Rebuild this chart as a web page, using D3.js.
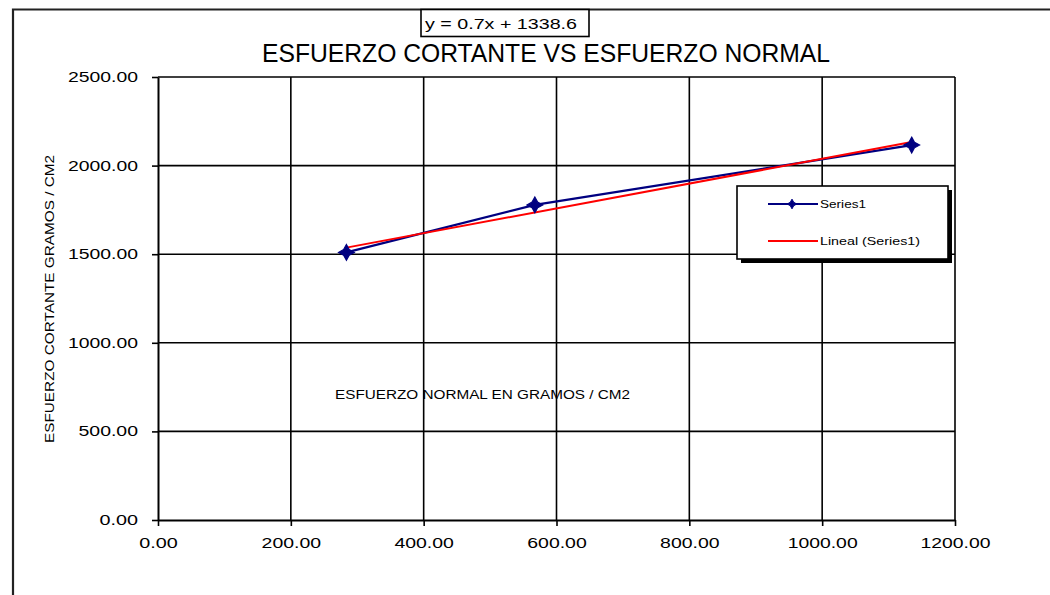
<!DOCTYPE html>
<html>
<head>
<meta charset="utf-8">
<script src="https://cdn.jsdelivr.net/npm/d3@7"></script>
<style>
  html, body { margin: 0; padding: 0; background: #fff; }
  svg { display: block; }
  text { font-family: "Liberation Sans", Arial, sans-serif; fill: #000; }
</style>
</head>
<body>
<svg id="chart" width="1050" height="595"></svg>
<script>
// ---- data ----
const normalStress = [283.7, 567.4, 1134.8];   // x: esfuerzo normal
const shearStress  = [1510, 1778, 2116];       // y: esfuerzo cortante
const trendSlope = 0.7;
const trendIntercept = 1338.6;
const xTicks = [0, 200, 400, 600, 800, 1000, 1200];
const yTicks = [0, 500, 1000, 1500, 2000, 2500];
const seriesNames = ["Series1", "Lineal (Series1)"];
const titleText = "ESFUERZO CORTANTE  VS ESFUERZO NORMAL";
const xTitleText = "ESFUERZO NORMAL EN GRAMOS / CM2";
const yTitleText = "ESFUERZO CORTANTE GRAMOS / CM2";
const equationText = "y = 0.7x + 1338.6";

const svg = d3.select("#chart");
const W = 1050, H = 595;
const plot = { left: 158, right: 955, top: 77, bottom: 520 };

const x = d3.scaleLinear().domain([0, 1200]).range([plot.left, plot.right]);
const y = d3.scaleLinear().domain([0, 2500]).range([plot.bottom, plot.top]);

// outer chart frame (left and top edges visible)
svg.append("path")
  .attr("d", `M13,${H} L13,9.5 L${W},9.5`)
  .attr("fill", "none").attr("stroke", "#222").attr("stroke-width", 2.2);

// plot area
svg.append("rect")
  .attr("x", plot.left).attr("y", plot.top)
  .attr("width", plot.right - plot.left).attr("height", plot.bottom - plot.top)
  .attr("fill", "#fff");

// x-axis title drawn inside plot (below gridlines)
svg.append("text")
  .attr("x", 335).attr("y", 399)
  .attr("font-size", 12)
  .attr("fill", "#000")
  .attr("textLength", 295).attr("lengthAdjust", "spacingAndGlyphs")
  .text(xTitleText);

// gridlines
svg.append("g").selectAll("line.v")
  .data(xTicks.filter(d => d > 0))
  .join("line")
  .attr("x1", d => x(d)).attr("x2", d => x(d))
  .attr("y1", plot.top).attr("y2", plot.bottom)
  .attr("stroke", "#000").attr("stroke-width", 1.6);
svg.append("g").selectAll("line.h")
  .data(yTicks.filter(d => d > 0))
  .join("line")
  .attr("x1", plot.left).attr("x2", plot.right)
  .attr("y1", d => y(d)).attr("y2", d => y(d))
  .attr("stroke", "#000").attr("stroke-width", 1.6);

// axes
const fmt = d3.format(".2f");
const lenFor = s => (s.length - 1) * 10.5 + 7;

const xAxis = svg.append("g")
  .attr("transform", `translate(0,${plot.bottom})`)
  .call(d3.axisBottom(x).tickValues(xTicks).tickFormat(fmt).tickSizeInner(6).tickSizeOuter(0).tickPadding(12));
xAxis.select(".domain").attr("stroke", "#000").attr("stroke-width", 2);
xAxis.selectAll(".tick line").attr("stroke", "#000").attr("stroke-width", 1.6);
xAxis.selectAll(".tick text")
  .attr("font-size", 14).attr("font-family", "Liberation Sans, Arial, sans-serif")
  .attr("fill", "#222")
  .each(function() {
    const s = d3.select(this).text();
    d3.select(this).attr("textLength", lenFor(s)).attr("lengthAdjust", "spacingAndGlyphs");
  });

const yAxis = svg.append("g")
  .attr("transform", `translate(${plot.left},0)`)
  .call(d3.axisLeft(y).tickValues(yTicks).tickFormat(fmt).tickSizeInner(6).tickSizeOuter(0).tickPadding(14));
yAxis.select(".domain").attr("stroke", "#000").attr("stroke-width", 2);
yAxis.selectAll(".tick line").attr("stroke", "#000").attr("stroke-width", 1.6);
yAxis.selectAll(".tick text")
  .attr("font-size", 14).attr("font-family", "Liberation Sans, Arial, sans-serif")
  .attr("fill", "#222")
  .each(function() {
    const s = d3.select(this).text();
    d3.select(this).attr("textLength", lenFor(s)).attr("lengthAdjust", "spacingAndGlyphs");
  });

// y-axis title
svg.append("text")
  .attr("transform", `translate(54,${(155 + 443) / 2}) rotate(-90)`)
  .attr("text-anchor", "middle")
  .attr("font-size", 12)
  .attr("fill", "#000")
  .attr("textLength", 288).attr("lengthAdjust", "spacingAndGlyphs")
  .text(yTitleText);

// title
svg.append("text")
  .attr("x", 262).attr("y", 62)
  .attr("font-size", 26)
  .attr("fill", "#000")
  .attr("textLength", 568).attr("lengthAdjust", "spacingAndGlyphs")
  .text(titleText);

// equation label box
svg.append("rect")
  .attr("x", 421).attr("y", 9.5).attr("width", 168).attr("height", 27)
  .attr("fill", "#fff").attr("stroke", "#000").attr("stroke-width", 1.6);
svg.append("text")
  .attr("x", 425).attr("y", 29)
  .attr("font-size", 14)
  .attr("fill", "#000")
  .attr("textLength", 152).attr("lengthAdjust", "spacingAndGlyphs")
  .text(equationText);

// 4-point star marker
const star4 = {
  draw(ctx, size) {
    const R = Math.sqrt(size) * 0.72, r = R * 0.5;
    for (let i = 0; i < 8; i++) {
      const a = i * Math.PI / 4 - Math.PI / 2;
      const rad = i % 2 === 0 ? R : r;
      const px = rad * Math.cos(a), py = rad * Math.sin(a);
      if (i === 0) ctx.moveTo(px, py); else ctx.lineTo(px, py);
    }
    ctx.closePath();
  }
};

const pts = normalStress.map((v, i) => ({ x: v, y: shearStress[i] }));

// series line
svg.append("path")
  .datum(pts)
  .attr("d", d3.line().x(d => x(d.x)).y(d => y(d.y)))
  .attr("fill", "none").attr("stroke", "#000080").attr("stroke-width", 2.2);

// linear trendline
const xExt = d3.extent(normalStress);
svg.append("path")
  .datum(xExt.map(v => ({ x: v, y: trendSlope * v + trendIntercept })))
  .attr("d", d3.line().x(d => x(d.x)).y(d => y(d.y)))
  .attr("fill", "none").attr("stroke", "#ff0000").attr("stroke-width", 2);

// markers
svg.append("g").selectAll("path")
  .data(pts)
  .join("path")
  .attr("transform", d => `translate(${x(d.x)},${y(d.y)})`)
  .attr("d", d3.symbol().type(star4).size(120))
  .attr("fill", "#000080").attr("stroke", "#000080").attr("stroke-width", 1.2);

// legend
const lg = { x: 737, y: 186, w: 211, h: 73 };
svg.append("rect")
  .attr("x", lg.x + 4).attr("y", lg.y + 4).attr("width", lg.w).attr("height", lg.h)
  .attr("fill", "#000");
svg.append("rect")
  .attr("x", lg.x).attr("y", lg.y).attr("width", lg.w).attr("height", lg.h)
  .attr("fill", "#fff").attr("stroke", "#000").attr("stroke-width", 1.6);

const legendRows = [
  { name: seriesNames[0], color: "#000080", marker: true, yy: 204, len: 46 },
  { name: seriesNames[1], color: "#ff0000", marker: false, yy: 241, len: 100 }
];
const lr = svg.append("g").selectAll("g").data(legendRows).join("g");
lr.append("line")
  .attr("x1", 768).attr("x2", 818).attr("y1", d => d.yy).attr("y2", d => d.yy)
  .attr("stroke", d => d.color).attr("stroke-width", 2);
lr.filter(d => d.marker).append("path")
  .attr("transform", d => `translate(792,${d.yy})`)
  .attr("d", d3.symbol().type(star4).size(45))
  .attr("fill", "#000080").attr("stroke", "#000080").attr("stroke-width", 1);
lr.append("text")
  .attr("x", 820).attr("y", d => d.yy + 4)
  .attr("font-size", 11)
  .attr("fill", "#000")
  .attr("textLength", d => d.len).attr("lengthAdjust", "spacingAndGlyphs")
  .text(d => d.name);
</script>
</body>
</html>
